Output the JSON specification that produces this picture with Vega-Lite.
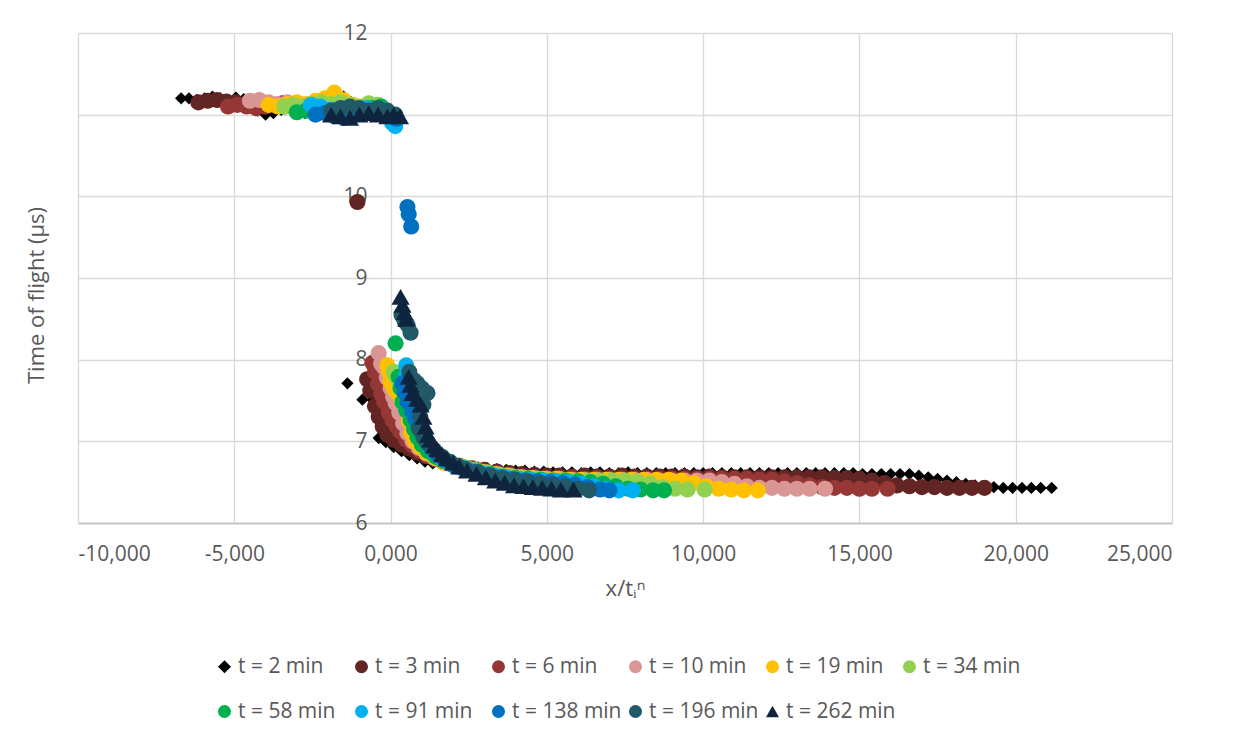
{
  "$schema": "https://vega.github.io/schema/vega-lite/v6.json",
  "width": 1094,
  "height": 490,
  "autosize": {"type": "none"},
  "padding": {"left": 78, "top": 33, "right": 63, "bottom": 217},
  "background": "white",
  "config": {
    "font": "Open Sans",
    "view": {"stroke": null},
    "axis": {"labelFont": "Open Sans", "titleFont": "Open Sans", "labelColor": "#595959", "titleColor": "#595959", "labelFontSize": 21, "titleFontSize": 21, "titleFontWeight": "normal", "gridColor": "#d9d9d9", "gridWidth": 1.3},
    "legend": {"labelFont": "Open Sans", "labelFontSize": 21, "labelColor": "#595959"}
  },
  "data": {"values": [
    {"t":2,"x":-6.7,"y":11.2},{"t":2,"x":-6.45,"y":11.2},{"t":2,"x":-6.2,"y":11.18},{"t":2,"x":-5.95,"y":11.2},{"t":2,"x":-5.7,"y":11.22},{"t":2,"x":-5.45,"y":11.2},{"t":2,"x":-5.2,"y":11.18},{"t":2,"x":-4.95,"y":11.21},{"t":2,"x":-4.7,"y":11.19},{"t":2,"x":-4.45,"y":11.16},{"t":2,"x":-4.25,"y":11.05},{"t":2,"x":-4.0,"y":11.0},{"t":2,"x":-3.75,"y":11.02},{"t":2,"x":-3.5,"y":11.06},{"t":2,"x":-3.25,"y":11.09},{"t":2,"x":-3.0,"y":11.05},{"t":2,"x":-2.75,"y":11.02},{"t":2,"x":-2.5,"y":11.04},{"t":2,"x":-2.25,"y":11.1},{"t":2,"x":-2.0,"y":11.14},{"t":2,"x":-1.75,"y":11.2},{"t":2,"x":-1.5,"y":11.22},{"t":2,"x":-1.25,"y":11.15},{"t":2,"x":-1.0,"y":11.1},
    {"t":2,"x":-1.38,"y":7.71},{"t":2,"x":-0.9,"y":7.51},{"t":2,"x":-0.58,"y":7.51},{"t":2,"x":-0.38,"y":7.04},{"t":2,"x":-0.15,"y":6.99},{"t":2,"x":0.1,"y":6.93},{"t":2,"x":0.35,"y":6.88},{"t":2,"x":0.6,"y":6.83},{"t":2,"x":0.85,"y":6.79},{"t":2,"x":1.1,"y":6.75},{"t":2,"x":1.35,"y":6.73},
    {"t":2,"x":1.6,"y":6.72},{"t":2,"x":1.9,"y":6.71},{"t":2,"x":2.2,"y":6.7},{"t":2,"x":2.5,"y":6.69},{"t":2,"x":2.8,"y":6.68},{"t":2,"x":3.1,"y":6.67},{"t":2,"x":3.4,"y":6.66},{"t":2,"x":3.7,"y":6.65},{"t":2,"x":4.0,"y":6.64},{"t":2,"x":4.3,"y":6.64},{"t":2,"x":4.6,"y":6.63},{"t":2,"x":4.9,"y":6.63},{"t":2,"x":5.2,"y":6.62},{"t":2,"x":5.5,"y":6.62},{"t":2,"x":5.8,"y":6.62},{"t":2,"x":6.1,"y":6.61},{"t":2,"x":6.4,"y":6.62},{"t":2,"x":6.7,"y":6.62},{"t":2,"x":7.0,"y":6.61},{"t":2,"x":7.3,"y":6.61},{"t":2,"x":7.6,"y":6.62},{"t":2,"x":7.9,"y":6.61},{"t":2,"x":8.2,"y":6.61},{"t":2,"x":8.5,"y":6.61},{"t":2,"x":8.8,"y":6.61},{"t":2,"x":9.1,"y":6.61},{"t":2,"x":9.4,"y":6.61},{"t":2,"x":9.7,"y":6.61},{"t":2,"x":10.0,"y":6.61},{"t":2,"x":10.3,"y":6.61},{"t":2,"x":10.6,"y":6.61},{"t":2,"x":10.9,"y":6.61},{"t":2,"x":11.2,"y":6.61},{"t":2,"x":11.5,"y":6.61},{"t":2,"x":11.8,"y":6.61},{"t":2,"x":12.1,"y":6.61},{"t":2,"x":12.4,"y":6.61},{"t":2,"x":12.7,"y":6.61},{"t":2,"x":13.0,"y":6.61},{"t":2,"x":13.3,"y":6.61},{"t":2,"x":13.6,"y":6.61},{"t":2,"x":13.9,"y":6.61},{"t":2,"x":14.2,"y":6.61},{"t":2,"x":14.5,"y":6.61},{"t":2,"x":14.8,"y":6.61},{"t":2,"x":15.1,"y":6.6},{"t":2,"x":15.4,"y":6.6},{"t":2,"x":15.7,"y":6.6},{"t":2,"x":16.0,"y":6.6},{"t":2,"x":16.3,"y":6.6},{"t":2,"x":16.6,"y":6.6},{"t":2,"x":16.9,"y":6.58},{"t":2,"x":17.2,"y":6.56},{"t":2,"x":17.5,"y":6.54},{"t":2,"x":17.8,"y":6.52},{"t":2,"x":18.1,"y":6.5},{"t":2,"x":18.4,"y":6.48},{"t":2,"x":18.7,"y":6.46},{"t":2,"x":19.0,"y":6.45},{"t":2,"x":19.3,"y":6.44},{"t":2,"x":19.6,"y":6.43},{"t":2,"x":19.9,"y":6.43},{"t":2,"x":20.2,"y":6.43},{"t":2,"x":20.5,"y":6.43},{"t":2,"x":20.8,"y":6.43},{"t":2,"x":21.15,"y":6.43},

    {"t":3,"x":-6.15,"y":11.15},{"t":3,"x":-5.85,"y":11.17},{"t":3,"x":-5.55,"y":11.18},{"t":3,"x":-5.25,"y":11.16},{"t":3,"x":-4.95,"y":11.15},{"t":3,"x":-4.65,"y":11.13},{"t":3,"x":-4.35,"y":11.12},{"t":3,"x":-4.05,"y":11.1},{"t":3,"x":-3.75,"y":11.12},{"t":3,"x":-3.45,"y":11.14},{"t":3,"x":-3.15,"y":11.12},{"t":3,"x":-2.85,"y":11.1},{"t":3,"x":-2.55,"y":11.12},{"t":3,"x":-2.25,"y":11.1},{"t":3,"x":-1.95,"y":11.12},{"t":3,"x":-1.65,"y":11.1},{"t":3,"x":-1.35,"y":11.08},
    {"t":3,"x":-1.06,"y":9.93},
    {"t":3,"x":-0.75,"y":7.76},{"t":3,"x":-0.65,"y":7.62},{"t":3,"x":-0.5,"y":7.43},{"t":3,"x":-0.38,"y":7.3},{"t":3,"x":-0.25,"y":7.18},{"t":3,"x":-0.1,"y":7.08},{"t":3,"x":0.1,"y":7.02},{"t":3,"x":0.35,"y":6.96},{"t":3,"x":0.6,"y":6.91},{"t":3,"x":0.85,"y":6.86},{"t":3,"x":1.1,"y":6.82},{"t":3,"x":1.4,"y":6.78},
    {"t":3,"x":1.8,"y":6.74},{"t":3,"x":2.2,"y":6.7},{"t":3,"x":2.6,"y":6.67},{"t":3,"x":3.0,"y":6.65},{"t":3,"x":3.4,"y":6.63},{"t":3,"x":3.8,"y":6.61},{"t":3,"x":4.2,"y":6.6},{"t":3,"x":4.6,"y":6.59},{"t":3,"x":5.0,"y":6.58},{"t":3,"x":5.4,"y":6.58},{"t":3,"x":5.8,"y":6.57},{"t":3,"x":6.2,"y":6.58},{"t":3,"x":6.6,"y":6.57},{"t":3,"x":7.0,"y":6.57},{"t":3,"x":7.4,"y":6.58},{"t":3,"x":7.8,"y":6.57},{"t":3,"x":8.2,"y":6.57},{"t":3,"x":8.6,"y":6.57},{"t":3,"x":9.0,"y":6.57},{"t":3,"x":9.4,"y":6.57},{"t":3,"x":9.8,"y":6.56},{"t":3,"x":10.2,"y":6.57},{"t":3,"x":10.6,"y":6.56},{"t":3,"x":11.0,"y":6.56},{"t":3,"x":11.4,"y":6.56},{"t":3,"x":11.8,"y":6.56},{"t":3,"x":12.2,"y":6.56},{"t":3,"x":12.6,"y":6.56},{"t":3,"x":13.0,"y":6.56},{"t":3,"x":13.4,"y":6.56},{"t":3,"x":13.8,"y":6.56},{"t":3,"x":14.2,"y":6.55},{"t":3,"x":14.6,"y":6.55},{"t":3,"x":15.0,"y":6.54},{"t":3,"x":15.4,"y":6.52},{"t":3,"x":15.8,"y":6.49},{"t":3,"x":16.2,"y":6.46},{"t":3,"x":16.6,"y":6.45},{"t":3,"x":17.0,"y":6.44},{"t":3,"x":17.4,"y":6.44},{"t":3,"x":17.8,"y":6.43},{"t":3,"x":18.2,"y":6.43},{"t":3,"x":18.6,"y":6.43},{"t":3,"x":19.0,"y":6.43},

    {"t":6,"x":-5.2,"y":11.1},{"t":6,"x":-4.9,"y":11.12},{"t":6,"x":-4.6,"y":11.1},{"t":6,"x":-4.3,"y":11.08},{"t":6,"x":-4.0,"y":11.1},{"t":6,"x":-3.7,"y":11.12},{"t":6,"x":-3.4,"y":11.1},{"t":6,"x":-3.1,"y":11.09},{"t":6,"x":-2.8,"y":11.1},{"t":6,"x":-2.5,"y":11.12},{"t":6,"x":-2.2,"y":11.1},{"t":6,"x":-1.9,"y":11.08},{"t":6,"x":-1.6,"y":11.1},{"t":6,"x":-1.3,"y":11.07},{"t":6,"x":-1.0,"y":11.05},
    {"t":6,"x":-0.58,"y":7.96},{"t":6,"x":-0.5,"y":7.85},{"t":6,"x":-0.4,"y":7.7},{"t":6,"x":-0.3,"y":7.58},{"t":6,"x":-0.2,"y":7.48},{"t":6,"x":-0.05,"y":7.35},{"t":6,"x":0.06,"y":7.26},{"t":6,"x":0.2,"y":7.18},{"t":6,"x":0.32,"y":7.12},{"t":6,"x":0.5,"y":7.02},{"t":6,"x":0.7,"y":6.95},{"t":6,"x":0.95,"y":6.88},{"t":6,"x":1.2,"y":6.82},{"t":6,"x":1.5,"y":6.78},
    {"t":6,"x":1.8,"y":6.74},{"t":6,"x":2.2,"y":6.7},{"t":6,"x":2.6,"y":6.66},{"t":6,"x":3.0,"y":6.63},{"t":6,"x":3.4,"y":6.61},{"t":6,"x":3.8,"y":6.59},{"t":6,"x":4.2,"y":6.57},{"t":6,"x":4.6,"y":6.56},{"t":6,"x":5.0,"y":6.55},{"t":6,"x":5.4,"y":6.55},{"t":6,"x":5.8,"y":6.55},{"t":6,"x":6.2,"y":6.54},{"t":6,"x":6.6,"y":6.55},{"t":6,"x":7.0,"y":6.54},{"t":6,"x":7.4,"y":6.54},{"t":6,"x":7.8,"y":6.54},{"t":6,"x":8.2,"y":6.54},{"t":6,"x":8.6,"y":6.54},{"t":6,"x":9.0,"y":6.54},{"t":6,"x":9.4,"y":6.54},{"t":6,"x":9.8,"y":6.54},{"t":6,"x":10.2,"y":6.54},{"t":6,"x":10.6,"y":6.54},{"t":6,"x":11.0,"y":6.54},{"t":6,"x":11.4,"y":6.54},{"t":6,"x":11.8,"y":6.53},{"t":6,"x":12.2,"y":6.53},{"t":6,"x":12.6,"y":6.51},{"t":6,"x":13.0,"y":6.49},{"t":6,"x":13.4,"y":6.46},{"t":6,"x":13.8,"y":6.44},{"t":6,"x":14.2,"y":6.43},{"t":6,"x":14.6,"y":6.43},{"t":6,"x":15.0,"y":6.42},{"t":6,"x":15.4,"y":6.42},{"t":6,"x":15.9,"y":6.42},

    {"t":10,"x":-4.5,"y":11.17},{"t":10,"x":-4.2,"y":11.18},{"t":10,"x":-3.9,"y":11.15},{"t":10,"x":-3.6,"y":11.13},{"t":10,"x":-3.3,"y":11.15},{"t":10,"x":-3.0,"y":11.14},{"t":10,"x":-2.7,"y":11.12},{"t":10,"x":-2.4,"y":11.15},{"t":10,"x":-2.1,"y":11.13},{"t":10,"x":-1.8,"y":11.12},{"t":10,"x":-1.5,"y":11.1},{"t":10,"x":-1.2,"y":11.08},{"t":10,"x":-0.9,"y":11.05},
    {"t":10,"x":-0.38,"y":8.08},{"t":10,"x":-0.3,"y":7.95},{"t":10,"x":-0.22,"y":7.91},{"t":10,"x":-0.12,"y":7.78},{"t":10,"x":0.0,"y":7.65},{"t":10,"x":0.08,"y":7.55},{"t":10,"x":0.16,"y":7.47},{"t":10,"x":0.28,"y":7.35},{"t":10,"x":0.4,"y":7.22},{"t":10,"x":0.54,"y":7.1},{"t":10,"x":0.7,"y":7.0},{"t":10,"x":0.9,"y":6.92},{"t":10,"x":1.15,"y":6.85},{"t":10,"x":1.45,"y":6.79},
    {"t":10,"x":1.8,"y":6.73},{"t":10,"x":2.2,"y":6.69},{"t":10,"x":2.6,"y":6.65},{"t":10,"x":3.0,"y":6.62},{"t":10,"x":3.4,"y":6.6},{"t":10,"x":3.8,"y":6.58},{"t":10,"x":4.2,"y":6.56},{"t":10,"x":4.6,"y":6.55},{"t":10,"x":5.0,"y":6.54},{"t":10,"x":5.4,"y":6.54},{"t":10,"x":5.8,"y":6.53},{"t":10,"x":6.2,"y":6.53},{"t":10,"x":6.6,"y":6.53},{"t":10,"x":7.0,"y":6.53},{"t":10,"x":7.4,"y":6.53},{"t":10,"x":7.8,"y":6.53},{"t":10,"x":8.2,"y":6.53},{"t":10,"x":8.6,"y":6.52},{"t":10,"x":9.0,"y":6.52},{"t":10,"x":9.4,"y":6.52},{"t":10,"x":9.8,"y":6.52},{"t":10,"x":10.2,"y":6.52},{"t":10,"x":10.6,"y":6.5},{"t":10,"x":11.0,"y":6.48},{"t":10,"x":11.4,"y":6.45},{"t":10,"x":11.8,"y":6.43},{"t":10,"x":12.2,"y":6.43},{"t":10,"x":12.6,"y":6.42},{"t":10,"x":13.0,"y":6.42},{"t":10,"x":13.4,"y":6.42},{"t":10,"x":13.9,"y":6.42},

    {"t":19,"x":-3.9,"y":11.12},{"t":19,"x":-3.6,"y":11.1},{"t":19,"x":-3.3,"y":11.13},{"t":19,"x":-3.0,"y":11.15},{"t":19,"x":-2.7,"y":11.13},{"t":19,"x":-2.4,"y":11.17},{"t":19,"x":-2.1,"y":11.2},{"t":19,"x":-1.8,"y":11.27},{"t":19,"x":-1.5,"y":11.18},{"t":19,"x":-1.2,"y":11.12},
    {"t":19,"x":-0.1,"y":7.93},{"t":19,"x":-0.05,"y":7.85},{"t":19,"x":0.0,"y":7.73},{"t":19,"x":0.1,"y":7.65},{"t":19,"x":0.2,"y":7.6},{"t":19,"x":0.35,"y":7.5},{"t":19,"x":0.5,"y":7.41},{"t":19,"x":0.58,"y":7.25},{"t":19,"x":0.66,"y":7.1},{"t":19,"x":0.78,"y":7.0},{"t":19,"x":0.95,"y":6.93},{"t":19,"x":1.15,"y":6.86},{"t":19,"x":1.4,"y":6.8},
    {"t":19,"x":1.7,"y":6.74},{"t":19,"x":2.1,"y":6.7},{"t":19,"x":2.5,"y":6.66},{"t":19,"x":2.9,"y":6.63},{"t":19,"x":3.3,"y":6.6},{"t":19,"x":3.7,"y":6.58},{"t":19,"x":4.1,"y":6.56},{"t":19,"x":4.5,"y":6.55},{"t":19,"x":4.9,"y":6.54},{"t":19,"x":5.3,"y":6.54},{"t":19,"x":5.7,"y":6.53},{"t":19,"x":6.1,"y":6.53},{"t":19,"x":6.5,"y":6.53},{"t":19,"x":6.9,"y":6.53},{"t":19,"x":7.3,"y":6.53},{"t":19,"x":7.7,"y":6.53},{"t":19,"x":8.1,"y":6.53},{"t":19,"x":8.5,"y":6.53},{"t":19,"x":8.9,"y":6.53},{"t":19,"x":9.3,"y":6.52},{"t":19,"x":9.7,"y":6.49},{"t":19,"x":10.1,"y":6.45},{"t":19,"x":10.5,"y":6.42},{"t":19,"x":10.9,"y":6.41},{"t":19,"x":11.3,"y":6.4},{"t":19,"x":11.75,"y":6.4},

    {"t":34,"x":-3.4,"y":11.1},{"t":34,"x":-3.1,"y":11.12},{"t":34,"x":-2.8,"y":11.1},{"t":34,"x":-2.5,"y":11.13},{"t":34,"x":-2.2,"y":11.15},{"t":34,"x":-1.9,"y":11.13},{"t":34,"x":-1.6,"y":11.15},{"t":34,"x":-1.3,"y":11.12},{"t":34,"x":-1.0,"y":11.1},{"t":34,"x":-0.7,"y":11.14},{"t":34,"x":-0.4,"y":11.12},
    {"t":34,"x":0.1,"y":7.85},{"t":34,"x":0.2,"y":7.78},{"t":34,"x":0.3,"y":7.7},{"t":34,"x":0.42,"y":7.63},{"t":34,"x":0.52,"y":7.52},{"t":34,"x":0.64,"y":7.42},{"t":34,"x":0.72,"y":7.3},{"t":34,"x":0.8,"y":7.18},{"t":34,"x":0.9,"y":7.06},{"t":34,"x":1.0,"y":6.97},{"t":34,"x":1.15,"y":6.9},{"t":34,"x":1.35,"y":6.83},{"t":34,"x":1.6,"y":6.78},
    {"t":34,"x":1.9,"y":6.73},{"t":34,"x":2.3,"y":6.69},{"t":34,"x":2.7,"y":6.65},{"t":34,"x":3.1,"y":6.62},{"t":34,"x":3.5,"y":6.59},{"t":34,"x":3.9,"y":6.57},{"t":34,"x":4.3,"y":6.55},{"t":34,"x":4.7,"y":6.54},{"t":34,"x":5.1,"y":6.53},{"t":34,"x":5.5,"y":6.53},{"t":34,"x":5.9,"y":6.52},{"t":34,"x":6.3,"y":6.52},{"t":34,"x":6.7,"y":6.52},{"t":34,"x":7.1,"y":6.52},{"t":34,"x":7.5,"y":6.52},{"t":34,"x":7.9,"y":6.51},{"t":34,"x":8.3,"y":6.48},{"t":34,"x":8.7,"y":6.44},{"t":34,"x":9.1,"y":6.42},{"t":34,"x":9.5,"y":6.41},{"t":34,"x":10.05,"y":6.41},

    {"t":58,"x":-3.0,"y":11.03},{"t":58,"x":-2.7,"y":11.05},{"t":58,"x":-2.4,"y":11.02},{"t":58,"x":-2.1,"y":11.04},{"t":58,"x":-1.8,"y":11.06},{"t":58,"x":-1.5,"y":11.05},{"t":58,"x":-1.2,"y":11.03},{"t":58,"x":-0.9,"y":11.05},{"t":58,"x":-0.6,"y":11.08},{"t":58,"x":-0.3,"y":11.1},
    {"t":58,"x":0.16,"y":8.2},
    {"t":58,"x":0.26,"y":7.79},{"t":58,"x":0.32,"y":7.65},{"t":58,"x":0.38,"y":7.48},{"t":58,"x":0.5,"y":7.38},{"t":58,"x":0.64,"y":7.26},{"t":58,"x":0.75,"y":7.15},{"t":58,"x":0.86,"y":7.05},{"t":58,"x":1.0,"y":6.96},{"t":58,"x":1.2,"y":6.88},{"t":58,"x":1.45,"y":6.81},{"t":58,"x":1.7,"y":6.76},
    {"t":58,"x":2.0,"y":6.71},{"t":58,"x":2.4,"y":6.67},{"t":58,"x":2.8,"y":6.63},{"t":58,"x":3.2,"y":6.6},{"t":58,"x":3.6,"y":6.57},{"t":58,"x":4.0,"y":6.55},{"t":58,"x":4.4,"y":6.54},{"t":58,"x":4.8,"y":6.53},{"t":58,"x":5.2,"y":6.52},{"t":58,"x":5.6,"y":6.52},{"t":58,"x":6.0,"y":6.51},{"t":58,"x":6.4,"y":6.5},{"t":58,"x":6.8,"y":6.48},{"t":58,"x":7.2,"y":6.45},{"t":58,"x":7.6,"y":6.42},{"t":58,"x":8.0,"y":6.41},{"t":58,"x":8.4,"y":6.4},{"t":58,"x":8.75,"y":6.4},

    {"t":91,"x":-2.55,"y":11.12},{"t":91,"x":-2.25,"y":11.1},{"t":91,"x":-1.95,"y":11.06},{"t":91,"x":-1.65,"y":11.0},{"t":91,"x":-1.35,"y":11.02},{"t":91,"x":-1.05,"y":11.05},{"t":91,"x":-0.75,"y":11.08},{"t":91,"x":-0.45,"y":11.05},{"t":91,"x":-0.15,"y":11.0},{"t":91,"x":0.05,"y":10.9},{"t":91,"x":0.15,"y":10.86},
    {"t":91,"x":0.5,"y":7.93},{"t":91,"x":0.5,"y":7.8},{"t":91,"x":0.48,"y":7.73},{"t":91,"x":0.55,"y":7.6},{"t":91,"x":0.65,"y":7.48},{"t":91,"x":0.74,"y":7.38},{"t":91,"x":0.85,"y":7.26},{"t":91,"x":0.96,"y":7.16},{"t":91,"x":1.08,"y":7.05},{"t":91,"x":1.22,"y":6.95},{"t":91,"x":1.4,"y":6.87},{"t":91,"x":1.6,"y":6.8},{"t":91,"x":1.85,"y":6.74},
    {"t":91,"x":2.1,"y":6.69},{"t":91,"x":2.5,"y":6.65},{"t":91,"x":2.9,"y":6.61},{"t":91,"x":3.3,"y":6.58},{"t":91,"x":3.7,"y":6.56},{"t":91,"x":4.1,"y":6.54},{"t":91,"x":4.5,"y":6.53},{"t":91,"x":4.9,"y":6.52},{"t":91,"x":5.3,"y":6.51},{"t":91,"x":5.7,"y":6.5},{"t":91,"x":6.1,"y":6.48},{"t":91,"x":6.5,"y":6.45},{"t":91,"x":6.9,"y":6.42},{"t":91,"x":7.3,"y":6.4},{"t":91,"x":7.75,"y":6.4},

    {"t":138,"x":-2.4,"y":11.0},{"t":138,"x":-2.1,"y":11.02},{"t":138,"x":-1.8,"y":10.98},{"t":138,"x":-1.5,"y":10.96},{"t":138,"x":-1.2,"y":11.0},{"t":138,"x":-0.9,"y":11.03},{"t":138,"x":-0.6,"y":11.05},{"t":138,"x":-0.3,"y":11.02},{"t":138,"x":0.0,"y":10.98},{"t":138,"x":0.2,"y":10.95},
    {"t":138,"x":0.54,"y":9.87},{"t":138,"x":0.58,"y":9.78},{"t":138,"x":0.66,"y":9.63},
    {"t":138,"x":0.38,"y":7.71},{"t":138,"x":0.45,"y":7.6},{"t":138,"x":0.55,"y":7.48},{"t":138,"x":0.7,"y":7.36},{"t":138,"x":0.8,"y":7.27},{"t":138,"x":0.9,"y":7.2},{"t":138,"x":1.02,"y":7.1},{"t":138,"x":1.15,"y":7.0},{"t":138,"x":1.3,"y":6.92},{"t":138,"x":1.5,"y":6.84},{"t":138,"x":1.75,"y":6.77},{"t":138,"x":2.0,"y":6.71},
    {"t":138,"x":2.3,"y":6.67},{"t":138,"x":2.7,"y":6.63},{"t":138,"x":3.1,"y":6.59},{"t":138,"x":3.5,"y":6.56},{"t":138,"x":3.9,"y":6.54},{"t":138,"x":4.3,"y":6.52},{"t":138,"x":4.7,"y":6.51},{"t":138,"x":5.1,"y":6.5},{"t":138,"x":5.5,"y":6.49},{"t":138,"x":5.9,"y":6.47},{"t":138,"x":6.3,"y":6.44},{"t":138,"x":6.7,"y":6.41},{"t":138,"x":7.0,"y":6.4},

    {"t":196,"x":-1.9,"y":11.05},{"t":196,"x":-1.6,"y":11.08},{"t":196,"x":-1.3,"y":11.1},{"t":196,"x":-1.0,"y":11.08},{"t":196,"x":-0.7,"y":11.05},{"t":196,"x":-0.4,"y":11.08},{"t":196,"x":-0.1,"y":11.05},{"t":196,"x":0.15,"y":11.0},
    {"t":196,"x":0.35,"y":8.55},{"t":196,"x":0.45,"y":8.47},{"t":196,"x":0.55,"y":8.42},{"t":196,"x":0.64,"y":8.33},
    {"t":196,"x":0.6,"y":7.85},{"t":196,"x":0.75,"y":7.75},{"t":196,"x":0.86,"y":7.71},{"t":196,"x":1.0,"y":7.65},{"t":196,"x":1.18,"y":7.59},{"t":196,"x":1.05,"y":7.45},{"t":196,"x":0.95,"y":7.3},{"t":196,"x":0.9,"y":7.16},{"t":196,"x":1.05,"y":7.05},{"t":196,"x":1.2,"y":6.97},{"t":196,"x":1.4,"y":6.89},{"t":196,"x":1.65,"y":6.81},{"t":196,"x":1.9,"y":6.75},{"t":196,"x":2.15,"y":6.7},
    {"t":196,"x":2.4,"y":6.66},{"t":196,"x":2.8,"y":6.62},{"t":196,"x":3.2,"y":6.58},{"t":196,"x":3.6,"y":6.55},{"t":196,"x":4.0,"y":6.53},{"t":196,"x":4.4,"y":6.51},{"t":196,"x":4.8,"y":6.49},{"t":196,"x":5.2,"y":6.47},{"t":196,"x":5.6,"y":6.45},{"t":196,"x":6.0,"y":6.42},{"t":196,"x":6.35,"y":6.4},

    {"t":262,"x":-1.9,"y":11.0},{"t":262,"x":-1.6,"y":10.98},{"t":262,"x":-1.3,"y":10.96},{"t":262,"x":-1.0,"y":11.0},{"t":262,"x":-0.7,"y":11.02},{"t":262,"x":-0.4,"y":11.0},{"t":262,"x":-0.1,"y":10.98},{"t":262,"x":0.1,"y":11.0},{"t":262,"x":0.3,"y":10.98},
    {"t":262,"x":0.32,"y":8.77},{"t":262,"x":0.38,"y":8.67},{"t":262,"x":0.45,"y":8.58},{"t":262,"x":0.5,"y":8.5},
    {"t":262,"x":0.58,"y":7.79},{"t":262,"x":0.64,"y":7.69},{"t":262,"x":0.7,"y":7.59},{"t":262,"x":0.85,"y":7.52},{"t":262,"x":0.96,"y":7.45},{"t":262,"x":1.05,"y":7.3},{"t":262,"x":1.12,"y":7.18},{"t":262,"x":1.2,"y":7.08},{"t":262,"x":1.28,"y":7.02},{"t":262,"x":1.4,"y":6.95},{"t":262,"x":1.5,"y":6.9},{"t":262,"x":1.65,"y":6.84},{"t":262,"x":1.8,"y":6.79},{"t":262,"x":2.0,"y":6.74},{"t":262,"x":2.2,"y":6.69},
    {"t":262,"x":2.45,"y":6.64},{"t":262,"x":2.75,"y":6.6},{"t":262,"x":3.05,"y":6.56},{"t":262,"x":3.35,"y":6.52},{"t":262,"x":3.65,"y":6.49},{"t":262,"x":3.95,"y":6.46},{"t":262,"x":4.25,"y":6.45},{"t":262,"x":4.55,"y":6.44},{"t":262,"x":4.85,"y":6.43},{"t":262,"x":5.15,"y":6.42},{"t":262,"x":5.45,"y":6.41},{"t":262,"x":5.85,"y":6.41}
  ]},
  "encoding": {
    "x": {"field": "x", "type": "quantitative",
      "scale": {"domain": [-10, 25], "nice": false, "zero": false},
      "axis": {"values": [-10, -5, 0, 5, 10, 15, 20, 25], "grid": true, "ticks": false, "domain": true, "domainColor": "#bfbfbf", "domainWidth": 1.3,
        "labelPadding": 20, "labelFontSize": 21, "labelExpr": "replace(replace(format(datum.value, '.3f'), '.', ','), '\u2212', '-')",
        "title": "x/tᵢⁿ", "titleFontSize": 22, "titlePadding": 14}},
    "color": {"field": "t", "type": "nominal",
      "scale": {"domain": [2, 3, 6, 10, 19, 34, 58, 91, 138, 196, 262],
        "range": ["#000000", "#632523", "#953735", "#D99694", "#FFC000", "#92D050", "#00B050", "#00B0F0", "#0070C0", "#215968", "#0F243E"]},
      "legend": {"orient": "none", "legendX": 136, "legendY": 623, "direction": "horizontal", "columns": 6, "gridAlign": "all",
        "columnPadding": 3, "rowPadding": 23, "labelOffset": 3, "symbolSize": 170, "symbolStrokeWidth": 0, "title": null,
        "labelExpr": "'t = ' + datum.label + ' min'"}},
    "shape": {"field": "t", "type": "nominal",
      "scale": {"domain": [2, 3, 6, 10, 19, 34, 58, 91, 138, 196, 262],
        "range": ["diamond", "circle", "circle", "circle", "circle", "circle", "circle", "circle", "circle", "circle", "triangle-up"]},
      "legend": {"orient": "none", "legendX": 136, "legendY": 623, "direction": "horizontal", "columns": 6, "gridAlign": "all",
        "columnPadding": 3, "rowPadding": 23, "labelOffset": 3, "symbolSize": 170, "symbolStrokeWidth": 0, "title": null,
        "labelExpr": "'t = ' + datum.label + ' min'"}}
  },
  "layer": [
    {
      "transform": [{"filter": "datum.t == 2"}],
      "mark": {"type": "point", "filled": true, "opacity": 1, "size": 150, "strokeWidth": 0},
      "encoding": {
        "y": {"field": "y", "type": "quantitative",
          "scale": {"domain": [6, 12], "nice": false, "zero": false},
          "axis": {"orient": "left", "values": [6, 7, 8, 9, 10, 11, 12], "grid": true, "labels": false, "ticks": false, "domain": false,
            "title": "Time of flight (µs)", "titleFontSize": 22, "titleX": -42, "titleY": 262, "titleAlign": "center", "titleBaseline": "middle", "titleAngle": -90}}
      }
    },
    {
      "transform": [{"filter": "datum.t > 2 && datum.t < 262"}],
      "mark": {"type": "point", "filled": true, "opacity": 1, "size": 260, "strokeWidth": 0},
      "encoding": {
        "y": {"field": "y", "type": "quantitative", "axis": null}
      }
    },
    {
      "transform": [{"filter": "datum.t == 262"}],
      "mark": {"type": "point", "filled": true, "opacity": 1, "size": 330, "strokeWidth": 0},
      "encoding": {
        "y": {"field": "y", "type": "quantitative",
          "axis": {"orient": "left", "values": [6, 7, 8, 9, 10, 11, 12], "grid": false, "ticks": false, "tickSize": 0, "domain": false, "offset": -312,
            "labelPadding": 23, "labelFontSize": 21, "title": null}}
      }
    }
  ],
  "resolve": {"axis": {"y": "independent"}}
}
